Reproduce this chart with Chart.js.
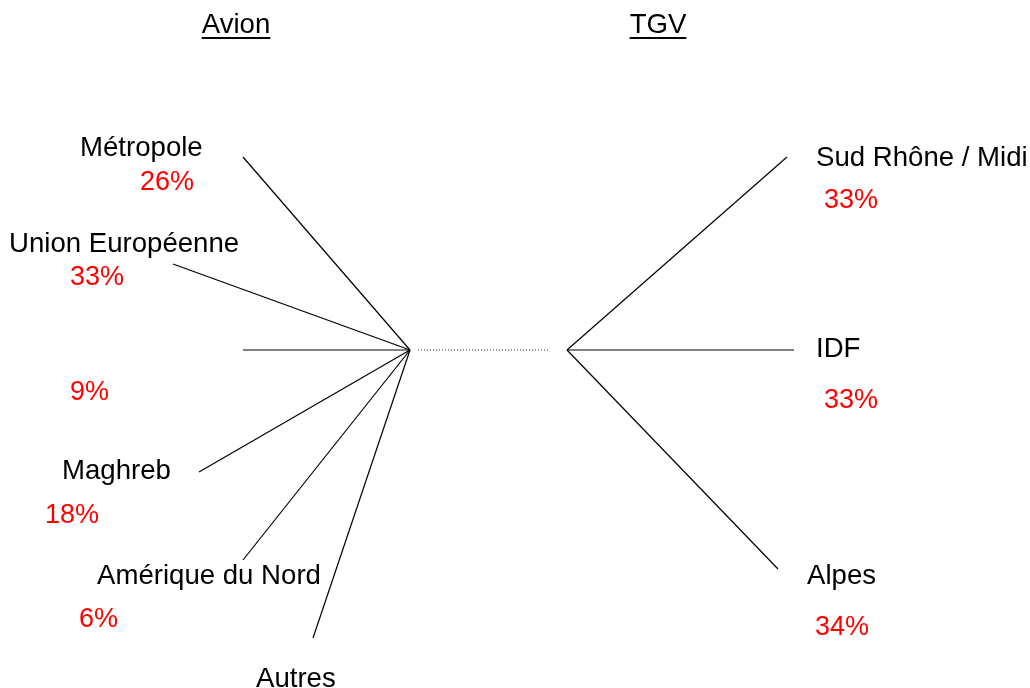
<!DOCTYPE html>
<html>
<head>
<meta charset="utf-8">
<script src="https://cdn.jsdelivr.net/npm/chart.js@4/dist/chart.umd.min.js"></script>
<style>
  html, body { margin: 0; padding: 0; background: #fff; }
  #wrap { width: 1030px; height: 688px; }
</style>
</head>
<body>
<div id="wrap"><canvas id="tree" width="1030" height="688"></canvas></div>
<script>
// Répartition des destinations, Avion / TGV
const avionCategories = ['Métropole', 'Union Européenne', '', 'Maghreb', 'Amérique du Nord', 'Autres'];
const avionShares = ['26%', '33%', '9%', '18%', '6%', ''];
const tgvCategories = ['Sud Rhône / Midi', 'IDF', 'Alpes'];
const tgvShares = ['33%', '33%', '34%'];

// branch ends (diagram units, same scale as the page)
const avionHub = [410, 350];
const avionEndX = [243, 173, 243, 199, 243, 313];
const avionEndY = [157, 264, 350, 472, 560, 638];
const tgvHub = [567, 350];
const tgvEndX = [787, 794, 778];
const tgvEndY = [157, 350, 569];

// label placement (left x, middle y) for names and percents
const avionNamePos = [[80, 148], [9, 244], null, [62, 471], [97, 576], [256, 679]];
const avionPctPos = [[140, 183], [70, 278], [70, 393], [45, 516], [79, 620], null];
const tgvNamePos = [[816, 158], [816, 349], [807, 576]];
const tgvPctPos = [[824, 201], [824, 401], [815, 628]];

const NAME_FONT = '27.6px "Liberation Sans", Arial, sans-serif';
const PCT_FONT = '27px "Liberation Sans", Arial, sans-serif';

function branch(hub, x, y) {
    return {
        data: [{ x: hub[0], y: hub[1] }, { x: x, y: y }],
        showLine: true,
        borderColor: '#000',
        borderWidth: 1.2,
        pointRadius: 0,
        fill: false
    };
}

const datasets = [];
avionEndX.forEach((x, i) => datasets.push(branch(avionHub, x, avionEndY[i])));
tgvEndX.forEach((x, i) => datasets.push(branch(tgvHub, x, tgvEndY[i])));
// dotted link between the two hubs
datasets.push({
    data: [{ x: 418, y: 350 }, { x: 549, y: 350 }],
    showLine: true,
    borderColor: '#333',
    borderWidth: 1,
    borderDash: [1, 2],
    pointRadius: 0
});

const labelPlugin = {
    id: 'labels',
    afterDraw(chart) {
        const ctx = chart.ctx;
        const sx = chart.scales.x, sy = chart.scales.y;
        ctx.save();
        ctx.textBaseline = 'middle';
        ctx.textAlign = 'left';

        function put(text, pos, color, font) {
            if (!text || !pos) return;
            ctx.font = font;
            ctx.fillStyle = color;
            ctx.fillText(text, sx.getPixelForValue(pos[0]), sy.getPixelForValue(pos[1]));
        }
        avionCategories.forEach((t, i) => put(t, avionNamePos[i], '#000', NAME_FONT));
        avionShares.forEach((t, i) => put(t, avionPctPos[i], '#ff0000', PCT_FONT));
        tgvCategories.forEach((t, i) => put(t, tgvNamePos[i], '#000', NAME_FONT));
        tgvShares.forEach((t, i) => put(t, tgvPctPos[i], '#ff0000', PCT_FONT));

        // underlined headings
        ctx.font = NAME_FONT;
        [['Avion', 236], ['TGV', 658]].forEach(([t, cx]) => {
            const px = sx.getPixelForValue(cx), py = sy.getPixelForValue(25);
            const w = ctx.measureText(t).width;
            ctx.fillStyle = '#000';
            ctx.textAlign = 'center';
            ctx.fillText(t, px, py);
            ctx.fillRect(px - w / 2, py + 12, w, 2);
        });
        ctx.restore();
    }
};

new Chart(document.getElementById('tree'), {
    type: 'scatter',
    data: { datasets: datasets },
    options: {
        responsive: false,
        animation: false,
        layout: { padding: 0 },
        plugins: { legend: { display: false }, tooltip: { enabled: false } },
        scales: {
            x: { type: 'linear', min: 0, max: 1030, display: false },
            y: { type: 'linear', min: 0, max: 688, reverse: true, display: false }
        }
    },
    plugins: [labelPlugin]
});
</script>
</body>
</html>
